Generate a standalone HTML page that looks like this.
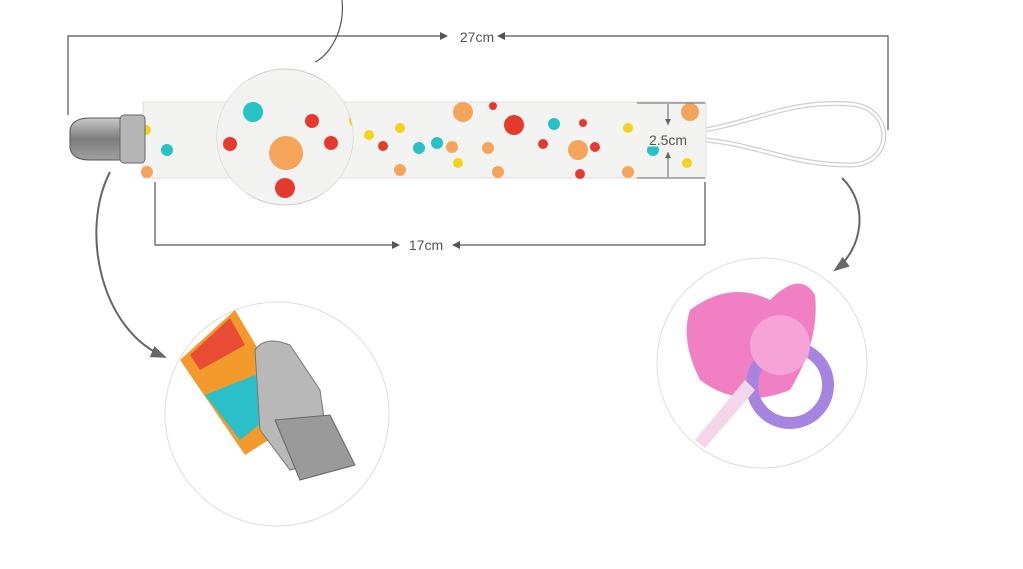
<!DOCTYPE html>
<html><head><style>body{margin:0;background:#fff}svg{display:block}text{font-family:"Liberation Sans",sans-serif}</style></head><body>
<svg width="1023" height="569" viewBox="0 0 1023 569">
<defs><marker id="a" markerWidth="8" markerHeight="8" refX="7" refY="4" orient="auto"><path d="M0,1 L8,4 L0,7 z" fill="#666"/></marker>
<clipPath id="mc"><circle cx="285" cy="137" r="68"/></clipPath>
<linearGradient id="m" x1="0" y1="0" x2="0" y2="1"><stop offset="0" stop-color="#c9c9c9"/><stop offset=".5" stop-color="#7d7d7d"/><stop offset="1" stop-color="#a0a0a0"/></linearGradient></defs>
<g stroke="#555" fill="none" stroke-width="1.2">
<path d="M68,115 V36 H440"/><path d="M888,130 V36 H505"/>
<path d="M155,182 V245 H392"/><path d="M705,182 V245 H460"/>
<path d="M342,0 C345,30 330,55 315,62"/>
<path d="M110,172 C80,230 100,330 165,357" stroke="#666" stroke-width="2" marker-end="url(#a)"/>
<path d="M842,178 C870,205 862,250 835,270" stroke="#666" stroke-width="2" marker-end="url(#a)"/>
</g>
<path d="M440,32 l8,4 l-8,4z M505,32 l-8,4 l8,4z M392,241 l8,4 l-8,4z M460,241 l-8,4 l8,4z" fill="#555"/>
<text x="477" y="42" font-size="14" fill="#555" text-anchor="middle">27cm</text>
<text x="426" y="250" font-size="14" fill="#555" text-anchor="middle">17cm</text>
<!-- loop -->
<path d="M705,130 C760,120 790,100 850,104 C895,107 895,165 850,165 C790,165 760,145 705,140" stroke="#cfcfcf" stroke-width="5" fill="none"/>
<path d="M705,130 C760,120 790,100 850,104 C895,107 895,165 850,165 C790,165 760,145 705,140" stroke="#fff" stroke-width="2.5" fill="none"/>
<!-- strap -->
<rect x="143" y="102" width="563" height="76" fill="#f3f3f1" stroke="#ddd"/>
<g>
<circle cx="146" cy="130" r="5" fill="#f5d21c"/><circle cx="167" cy="150" r="6" fill="#27c2c6"/><circle cx="147" cy="172" r="6" fill="#f5a55a"/>
<circle cx="369" cy="135" r="5" fill="#f5d21c"/>
<circle cx="383" cy="146" r="5" fill="#e53b2e"/><circle cx="400" cy="128" r="5" fill="#f5d21c"/><circle cx="419" cy="148" r="6" fill="#27c2c6"/><circle cx="400" cy="170" r="6" fill="#f5a55a"/>
<circle cx="437" cy="143" r="6" fill="#27c2c6"/><circle cx="463" cy="112" r="10" fill="#f5a55a"/><circle cx="452" cy="147" r="6" fill="#f5a55a"/><circle cx="458" cy="163" r="5" fill="#f5d21c"/>
<circle cx="488" cy="148" r="6" fill="#f5a55a"/><circle cx="498" cy="172" r="6" fill="#f5a55a"/><circle cx="493" cy="106" r="4" fill="#e53b2e"/>
<circle cx="514" cy="125" r="10" fill="#e53b2e"/><circle cx="543" cy="144" r="5" fill="#e53b2e"/><circle cx="554" cy="124" r="6" fill="#27c2c6"/>
<circle cx="578" cy="150" r="10" fill="#f5a55a"/><circle cx="583" cy="123" r="4" fill="#e53b2e"/><circle cx="595" cy="147" r="5" fill="#e53b2e"/><circle cx="580" cy="174" r="5" fill="#e53b2e"/>
<circle cx="628" cy="128" r="5" fill="#f5d21c"/><circle cx="628" cy="172" r="6" fill="#f5a55a"/><circle cx="690" cy="112" r="9" fill="#f5a55a"/><circle cx="653" cy="150" r="6" fill="#27c2c6"/><circle cx="687" cy="163" r="5" fill="#f5d21c"/>
</g>
<g stroke="#666" fill="none" stroke-width="1"><path d="M637,103 H705 M637,178 H705"/><path d="M668,104 V125 M668,152 V177"/></g>
<path d="M665,119 l3,6 l3,-6z M665,158 l3,-6 l3,6z" fill="#666"/>
<!-- magnifier -->
<circle cx="285" cy="137" r="68" fill="#f4f4f2" stroke="#ccc"/>
<g clip-path="url(#mc)"><rect x="210" y="80" width="150" height="113" fill="#f2f2f0"/>
<circle cx="253" cy="112" r="10" fill="#27c2c6"/><circle cx="312" cy="121" r="7" fill="#e53b2e"/><circle cx="230" cy="144" r="7" fill="#e53b2e"/><circle cx="286" cy="153" r="17" fill="#f5a55a"/><circle cx="331" cy="143" r="7" fill="#e53b2e"/><circle cx="357" cy="120" r="8" fill="#f5d21c"/><circle cx="285" cy="188" r="10" fill="#e53b2e"/></g>
<text x="668" y="145" font-size="14" fill="#555" text-anchor="middle" stroke="#f3f3f1" stroke-width="3" paint-order="stroke">2.5cm</text>
<!-- clip -->
<path d="M70,130 Q72,118 90,118 H140 V160 H90 Q72,160 70,148z" fill="url(#m)" stroke="#555"/>
<rect x="120" y="115" width="25" height="48" rx="4" fill="#b5b5b5" stroke="#666"/>
<!-- left circle -->
<circle cx="277" cy="414" r="112" fill="#fff" stroke="#ddd"/>
<path d="M180,360 L235,310 L300,420 L245,455z" fill="#f39a2c"/>
<path d="M190,355 L230,318 L245,345 L200,370z" fill="#e94c35"/>
<path d="M205,395 L255,375 L275,412 L240,440z" fill="#2bbfc9"/>
<path d="M255,350 Q265,335 290,345 L320,390 L330,460 L290,470 L260,430z" fill="#b8b8b8" stroke="#777"/>
<path d="M275,420 L330,415 L355,465 L300,480z" fill="#9a9a9a" stroke="#666"/>
<!-- right circle -->
<circle cx="762" cy="363" r="105" fill="#fff" stroke="#ddd"/>
<path d="M690,310 Q730,280 770,300 Q800,270 815,295 Q820,340 790,390 Q740,410 700,380 Q680,340 690,310z" fill="#f07fc4"/>
<circle cx="790" cy="385" r="38" fill="none" stroke="#a685e0" stroke-width="12"/>
<circle cx="780" cy="345" r="30" fill="#f6a3d8"/>
<path d="M695,440 L745,380 L755,390 L705,448z" fill="#f3d6e8"/>
</svg>
</body></html>
